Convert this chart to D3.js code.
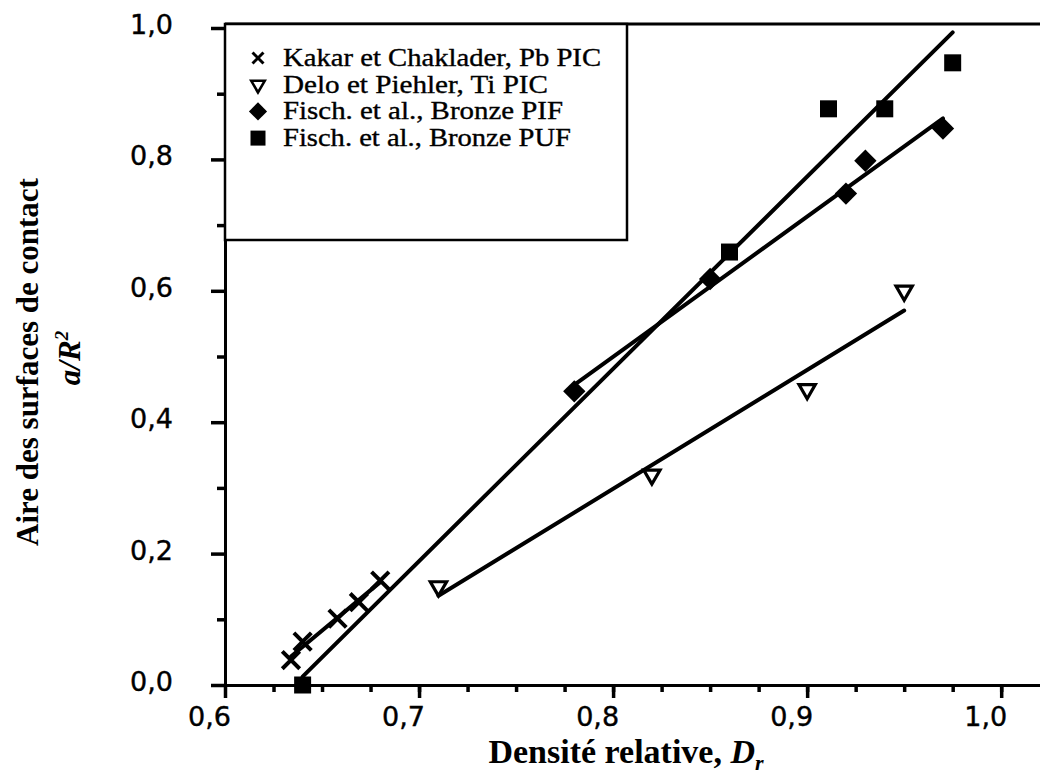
<!DOCTYPE html>
<html>
<head>
<meta charset="utf-8">
<script src="https://cdn.jsdelivr.net/npm/d3@7"></script>
<style>
body { margin: 0; background: #fff; }
svg { display: block; }
</style>
</head>
<body>
<svg id="chart" width="1040" height="784"></svg>
<script>
// data: [densite relative, a/R^2]
var kakar = [[0.634, 0.038], [0.640, 0.066], [0.658, 0.101], [0.669, 0.126], [0.680, 0.159]];
var delo = [[0.71, 0.15], [0.82, 0.32], [0.90, 0.45], [0.95, 0.60]];
var pif = [[0.78, 0.447], [0.85, 0.618], [0.92, 0.748], [0.93, 0.798], [0.97, 0.847]];
var puf = [[0.640, 0.0], [0.86, 0.659], [0.911, 0.877], [0.94, 0.877], [0.975, 0.947]];

var legendLabels = ["Kakar et Chaklader, Pb PIC", "Delo et Piehler, Ti PIC",
    "Fisch. et al., Bronze PIF", "Fisch. et al., Bronze PUF"];
var xTicks = [0.6, 0.7, 0.8, 0.9, 1.0];
var yTicks = [0.0, 0.2, 0.4, 0.6, 0.8, 1.0];

// legend text widths as printed (the scanned font is wide)
var legendWidths = [318, 265, 280, 288];

var fr = d3.formatLocale({decimal: ",", thousands: ".", grouping: [3], currency: ["", ""]});
var f = fr.format(".1f");

var svg = d3.select("#chart");

var x = d3.scaleLinear().domain([0.6, 1.02]).range([225, 1040]);
var y = d3.scaleLinear().domain([0, 1]).range([685, 28]);

// minor ticks
svg.append("g")
    .attr("transform", "translate(0,685)")
    .call(d3.axisBottom(x).tickValues(d3.range(0.625, 1.02, 0.025)).tickSize(7).tickFormat(""))
    .call(g => g.select(".domain").remove());
svg.append("g")
    .attr("transform", "translate(225,0)")
    .call(d3.axisLeft(y).tickValues(d3.range(0.1, 1, 0.2)).tickSize(8).tickFormat(""))
    .call(g => g.select(".domain").remove());

// main axes
var xAxis = svg.append("g")
    .attr("transform", "translate(0,685)")
    .call(d3.axisBottom(x).tickValues(xTicks).tickSize(13).tickSizeOuter(0).tickPadding(9).tickFormat(f));
xAxis.selectAll("text").attr("dx", -16);

var yAxis = svg.append("g")
    .attr("transform", "translate(225,0)")
    .call(d3.axisLeft(y).tickValues(yTicks).tickSize(14).tickSizeOuter(0).tickPadding(38).tickFormat(f));
yAxis.selectAll("text").attr("dy", "0.2em");

svg.selectAll(".tick line").attr("stroke", "#000").attr("stroke-width", 3.5);
svg.selectAll(".domain").attr("stroke", "#000").attr("stroke-width", 3);
svg.selectAll(".tick text")
    .attr("font-family", "DejaVu Sans")
    .attr("font-size", 27)
    .attr("fill", "#000")
    .attr("stroke", "#000")
    .attr("stroke-width", 0.4);

// top frame line
svg.append("line")
    .attr("x1", x(0.6)).attr("x2", x(1.02))
    .attr("y1", y(1) - 4).attr("y2", y(1) - 4)
    .attr("stroke", "#000").attr("stroke-width", 3);

// least squares lines
function fit(pts) {
    var mx = d3.mean(pts, d => d[0]), my = d3.mean(pts, d => d[1]);
    var sxy = d3.sum(pts, d => (d[0] - mx) * (d[1] - my));
    var sxx = d3.sum(pts, d => (d[0] - mx) * (d[0] - mx));
    var b = sxy / sxx, a = my - b * mx;
    var x0 = d3.min(pts, d => d[0]), x1 = d3.max(pts, d => d[0]);
    return [[x0, a + b * x0], [x1, a + b * x1]];
}

var line = d3.line().x(d => x(d[0])).y(d => y(d[1]));

[kakar, delo, pif, puf].forEach(function(s) {
    svg.append("path")
        .attr("d", line(fit(s)))
        .attr("fill", "none")
        .attr("stroke", "#000")
        .attr("stroke-width", 4)
        .attr("stroke-linecap", "round");
});

// marker styles
var timesType = d3.symbolTimes || {
    draw: function(ctx, size) {
        var r = Math.sqrt(size) * 0.6;
        ctx.moveTo(-r, -r); ctx.lineTo(r, r);
        ctx.moveTo(-r, r); ctx.lineTo(r, -r);
    }
};
var triType = d3.symbolTriangle2 || d3.symbolTriangle;

var styles = [
    {type: timesType, size: 200, lsize: 80, rot: 0, fill: "none", sw: 4, lsw: 3},
    {type: triType, size: 190, lsize: 130, rot: 180, fill: "#fff", sw: 3.2, lsw: 2.6},
    {type: d3.symbolSquare, size: 250, lsize: 165, rot: 45, fill: "#000", sw: 0, lsw: 0},
    {type: d3.symbolSquare, size: 289, lsize: 225, rot: 0, fill: "#000", sw: 0, lsw: 0}
];

[kakar, delo, pif, puf].forEach(function(s, i) {
    var st = styles[i];
    svg.append("g").selectAll("path")
        .data(s)
        .join("path")
        .attr("transform", d => "translate(" + x(d[0]) + "," + y(d[1]) + ") rotate(" + st.rot + ")")
        .attr("d", d3.symbol().type(st.type).size(st.size))
        .attr("fill", st.fill)
        .attr("stroke", "#000")
        .attr("stroke-width", st.sw)
        .attr("stroke-linejoin", "miter");
});

// legend
var leg = svg.append("g");
leg.append("rect")
    .attr("x", 225).attr("y", 24)
    .attr("width", 402).attr("height", 216)
    .attr("fill", "#fff")
    .attr("stroke", "#000")
    .attr("stroke-width", 2.5);

legendLabels.forEach(function(lab, i) {
    var st = styles[i];
    var by = 66 + i * 26.7;
    leg.append("path")
        .attr("transform", "translate(258," + (by - 8) + ") rotate(" + st.rot + ")")
        .attr("d", d3.symbol().type(st.type).size(st.lsize))
        .attr("fill", st.fill)
        .attr("stroke", "#000")
        .attr("stroke-width", st.lsw);
    leg.append("text")
        .attr("x", 283)
        .attr("y", by)
        .attr("font-family", "Liberation Serif")
        .attr("font-size", 25)
        .attr("textLength", legendWidths[i])
        .attr("lengthAdjust", "spacingAndGlyphs")
        .attr("fill", "#000")
        .attr("stroke", "#000")
        .attr("stroke-width", 0.35)
        .text(lab);
});

// axis titles
var xt = svg.append("text")
    .attr("x", 626)
    .attr("y", 763)
    .attr("text-anchor", "middle")
    .attr("font-family", "Liberation Serif")
    .attr("font-weight", "bold")
    .attr("font-size", 34);
xt.append("tspan").text("Densité relative, ");
xt.append("tspan").attr("font-style", "italic").text("D");
xt.append("tspan").attr("font-style", "italic").attr("font-size", 22).attr("dy", 7).text("r");

svg.append("text")
    .attr("transform", "translate(38,362) rotate(-90)")
    .attr("text-anchor", "middle")
    .attr("font-family", "Liberation Serif")
    .attr("font-weight", "bold")
    .attr("font-size", 31)
    .text("Aire des surfaces de contact");

var yt2 = svg.append("text")
    .attr("transform", "translate(80,358) rotate(-90)")
    .attr("text-anchor", "middle")
    .attr("font-family", "Liberation Serif")
    .attr("font-weight", "bold")
    .attr("font-style", "italic")
    .attr("font-size", 31);
yt2.append("tspan").text("a/R");
yt2.append("tspan").attr("font-size", 19).attr("dy", -12).text("2");
</script>
</body>
</html>
